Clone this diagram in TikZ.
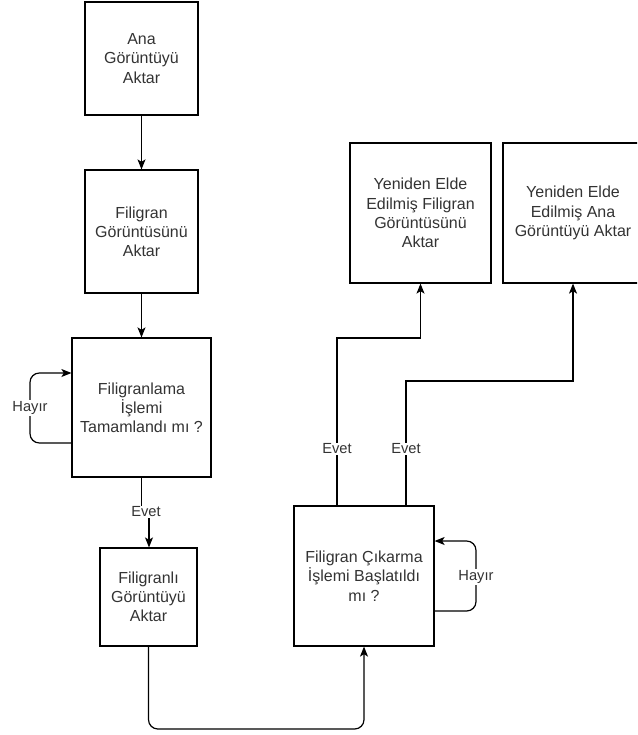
\documentclass[tikz,border=0pt]{standalone}
\usepackage{fontspec}
\setmainfont{Liberation Sans}
\usetikzlibrary{arrows.meta}
\definecolor{txt}{HTML}{333333}
\begin{document}
\begin{tikzpicture}[x=0.75pt,y=-0.75pt,
  box/.style={draw, line width=0.9pt, align=center, inner sep=0pt,
    font=\fontsize{12}{14.4}\selectfont, text=txt},
  lab/.style={fill=white, inner sep=1pt, font=\fontsize{11}{13}\selectfont, text=txt},
  conn/.style={line width=0.9pt},
  arr/.style={conn, -{Stealth[length=7.5pt,width=6pt,inset=1.8pt]}},
  loop/.style={arr, rounded corners=7pt}
]
\useasboundingbox (0,0) rectangle (637,735);
\clip (0,0) rectangle (637,735);

% boxes
\node[box, minimum width=84.75pt, minimum height=84.75pt] (b1) at (141.5,58.5) {Ana\\Görüntüyü\\Aktar};
\node[box, minimum width=84.75pt, minimum height=92.25pt] (b2) at (141.5,231.5) {Filigran\\Görüntüsünü\\Aktar};
\node[box, minimum width=104.25pt, minimum height=104.25pt] (b3) at (141.5,407.5) {Filigranlama\\İşlemi\\Tamamlandı mı ?};
\node[box, minimum width=72.75pt, minimum height=73.5pt] (b4) at (148.5,597) {Filigranlı\\Görüntüyü\\Aktar};
\node[box, minimum width=105pt, minimum height=105pt] (b5) at (364,576) {Filigran Çıkarma\\İşlemi Başlatıldı\\mı ?};
\node[box, minimum width=105.75pt, minimum height=105pt] (b6) at (420.5,213) {Yeniden Elde\\Edilmiş Filigran\\Görüntüsünü\\Aktar};
\node[box, minimum width=105pt, minimum height=105pt] (b7) at (573,213) {Yeniden Elde\\Edilmiş Ana\\Görüntüyü Aktar};

% straight arrows
\draw[arr] (b1) -- (b2);
\draw[arr] (b2) -- (b3);

% b3 -> b4 with Evet
\coordinate (j1) at (141.5,513);
\coordinate (j2) at (149,513);
\draw[arr] (b3.south) -- (j1) -- (j2) -- (j2 |- b4.north);
\node[lab] at (146,512) {Evet};

% Hayir loop on b3
\coordinate (h1) at (30,443);
\coordinate (h2) at (30,373);
\draw[loop] (b3.west |- h1) -- (h1) -- (h2) -- (b3.west |- h2);
\node[lab] at (30,408) {Hayır};

% Hayir loop on b5
\coordinate (h3) at (476,611);
\coordinate (h4) at (476,541);
\draw[loop] (b5.east |- h3) -- (h3) -- (h4) -- (b5.east |- h4);
\node[lab] at (476,577) {Hayır};

% b4 -> b5 bottom
\coordinate (d) at (0,729);
\draw[loop] (b4.south) -- (b4.south |- d) -- (b5.south |- d) -- (b5.south);

% b5 -> b6, b7
\coordinate (e1) at (337,338);
\coordinate (e2) at (406,381);
\draw[arr] (b5.north -| e1) -- (e1) -- (b6.south |- e1) -- (b6.south);
\draw[arr] (b5.north -| e2) -- (e2) -- (b7.south |- e2) -- (b7.south);
\node[lab] at (337,449) {Evet};
\node[lab] at (406,449) {Evet};
\end{tikzpicture}
\end{document}
